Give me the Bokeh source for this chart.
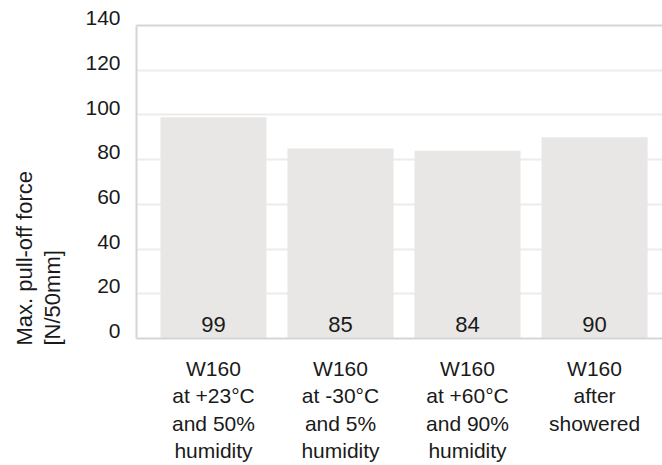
from bokeh.plotting import figure
from bokeh.models import FixedTicker, Range1d, LinearAxis, ColumnDataSource, Title
from bokeh.embed import file_html
from bokeh.resources import INLINE
from bokeh.core.properties import value

categories = [
    "W160\nat +23°C\nand 50%\nhumidity",
    "W160\nat -30°C\nand 5%\nhumidity",
    "W160\nat +60°C\nand 90%\nhumidity",
    "W160\nafter\nshowered",
]
values = [99, 85, 84, 90]
y_ticks = [0, 20, 40, 60, 80, 100, 120, 140]
y_title = "Max. pull-off force\n[N/50mm]"

FONT = "Liberation Sans"
TXT = "#1a1a1a"
AXIS_C = "#d5d5d5"

xs = list(range(len(categories)))
src = ColumnDataSource(dict(x=xs, top=values, label=[str(v) for v in values]))

X0, X1 = -0.606, 3.535
p = figure(width=662, height=465, output_backend="svg", toolbar_location=None,
           x_range=Range1d(X0, X1), y_range=Range1d(0, 140),
           min_border_left=136, min_border_right=0, min_border_top=25,
           min_border_bottom=124)
p.outline_line_color = None
p.background_fill_color = "white"
p.border_fill_color = "white"

p.vbar(x="x", top="top", bottom=0, width=0.835, source=src,
       fill_color="#e8e7e6", line_color=None)
p.text(x="x", y=0, text="label", source=src, y_offset=-14,
       text_align="center", text_baseline="alphabetic",
       text_font=value(FONT), text_font_size="22px", text_color=TXT)

# grid
p.xgrid.visible = False
p.ygrid.ticker = FixedTicker(ticks=y_ticks)
p.ygrid.grid_line_color = "#ececec"
p.ygrid.grid_line_width = 2

# y axis (labels sit just above their grid lines, as in the original)
ya = p.yaxis[0]
ya.ticker = FixedTicker(ticks=y_ticks)
ya.major_label_overrides = {t: f"{t}\n" for t in y_ticks}
ya.major_label_text_line_height = 0.68
ya.axis_line_color = AXIS_C
ya.axis_line_width = 2
ya.major_tick_line_color = None
ya.minor_tick_line_color = None
ya.major_tick_out = 0
ya.major_tick_in = 0
ya.major_label_standoff = 16
ya.major_label_text_font = FONT
ya.major_label_text_font_size = "21px"
ya.major_label_text_color = TXT
# small blank spacer between tick labels and the title
ya.axis_label = " "
ya.axis_label_text_font_size = "7px"
ya.axis_label_standoff = 0

# y title: starts at the zero line, reads bottom to top, lines left-aligned
title = Title(text=y_title, align="left", vertical_align="top",
              standoff=10, offset=-7,
              text_font=FONT, text_font_size="22px", text_font_style="normal",
              text_color=TXT, text_line_height=1.14)
p.add_layout(title, "left")

# x axis
xa = p.xaxis[0]
xa.ticker = FixedTicker(ticks=xs)
xa.major_label_overrides = {i: c for i, c in zip(xs, categories)}
xa.axis_line_color = AXIS_C
xa.axis_line_width = 2
xa.major_tick_line_color = None
xa.minor_tick_line_color = None
xa.major_tick_out = 0
xa.major_tick_in = 0
xa.major_label_standoff = 18
xa.major_label_text_font = FONT
xa.major_label_text_font_size = "21px"
xa.major_label_text_color = TXT
xa.major_label_text_line_height = 1.2

# top border line
top = LinearAxis(ticker=FixedTicker(ticks=[]))
top.axis_line_color = AXIS_C
top.axis_line_width = 2
top.major_tick_line_color = None
top.minor_tick_line_color = None
top.major_tick_out = 0
top.major_tick_in = 0
top.major_label_text_font_size = "0px"
top.major_label_standoff = 0
p.add_layout(top, "above")

open("out.html", "w").write(file_html(p, INLINE))
